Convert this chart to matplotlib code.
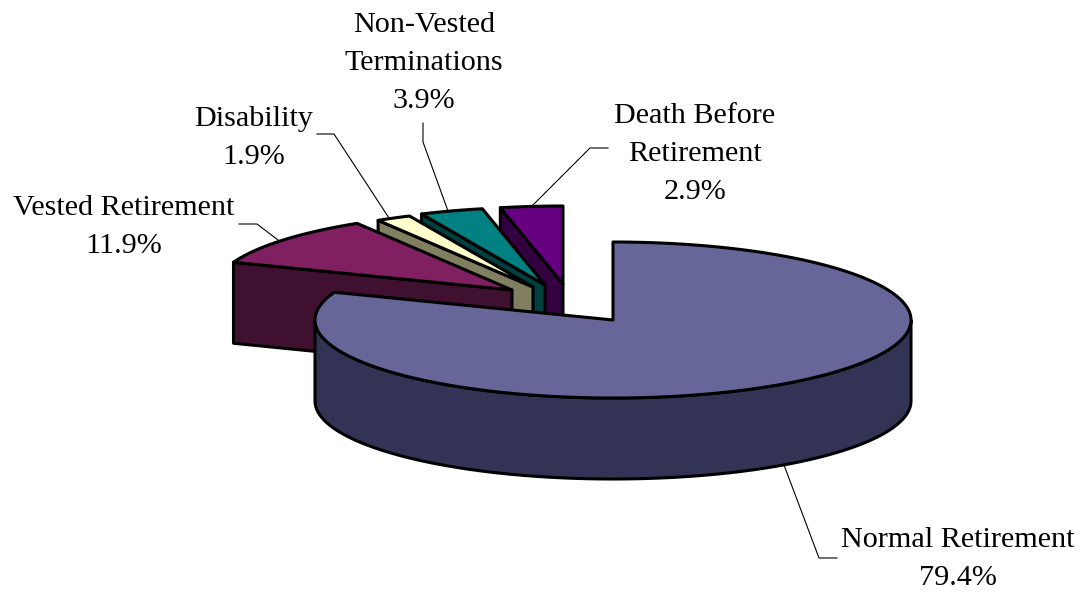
import numpy as np
import matplotlib
matplotlib.use('Agg')
import matplotlib.pyplot as plt
from matplotlib.patches import Polygon

# Data
labels = ['Normal Retirement', 'Vested Retirement', 'Disability',
          'Non-Vested\nTerminations', 'Death Before\nRetirement']
shares = [79.4, 11.9, 1.9, 3.9, 2.9]

top_colors = ['#666699', '#802060', '#FFFFCC', '#008080', '#660080']
side_colors = ['#333355', '#401030', '#808060', '#004040', '#330040']

# pixel layout of the tilted pie
rx, ry, depth = 298, 78, 81
apex = [(613, 320), (512, 290), (533, 287), (545, 285), (563, 284)]
cut_nudge = [0, 5, 0, 0, -1.7, 0]  # the drawn pie bends its cuts a little

# label centre, leader line
label_pos = [(958, 559), (124, 227), (254, 138), (424, 63), (695, 154)]
leaders = [[(837, 558), (819, 558), (784, 465)],
           [(239, 224), (257, 224), (278, 240)],
           [(317, 134), (334, 134), (389, 218)],
           [(423, 123), (423, 142), (448, 211)],
           [(608, 148), (590, 148), (531, 207)]]

fig = plt.figure(figsize=(10.83, 5.93), dpi=100)
ax = fig.add_axes([0, 0, 1, 1])
ax.set_xlim(0, 1083)
ax.set_ylim(593, 0)
ax.axis('off')

edges = np.cumsum([0] + shares) * 3.6 + cut_nudge


def rim(cx, cy, deg):
    t = np.radians(deg)
    return np.column_stack([cx + rx * np.sin(t), cy - ry * np.cos(t)])


for i in [4, 3, 2, 1, 0]:
    cx, cy = apex[i]
    a, b = edges[i], edges[i + 1]
    if i == 0:
        t = np.linspace(90, 270, 200)
        up = rim(cx, cy, t)
        wall = np.vstack([up, (up + [0, depth])[::-1]])
    else:
        p = rim(cx, cy, a)[0]
        wall = np.array([p, (cx, cy), (cx, cy + depth), p + [0, depth]])
    ax.add_patch(Polygon(wall, fc=side_colors[i], ec='black', lw=2.2, joinstyle='round'))
    arc = rim(cx, cy, np.linspace(a, b, 300))
    ax.add_patch(Polygon(np.vstack([[(cx, cy)], arc]), fc=top_colors[i], ec='black',
                         lw=2.2, joinstyle='round'))

for i in range(5):
    xs, ys = zip(*leaders[i])
    ax.plot(xs, ys, color='black', lw=0.8)
    ax.text(label_pos[i][0], label_pos[i][1], f'{labels[i]}\n{shares[i]:.1f}%',
            ha='center', va='center', family='Liberation Serif', fontsize=21.7,
            linespacing=1.58, color='black')

fig.savefig('out.png', dpi=100)
